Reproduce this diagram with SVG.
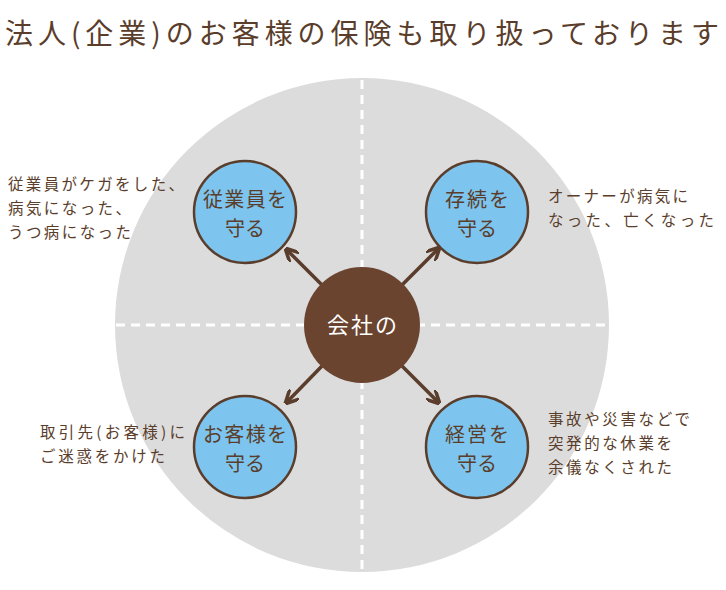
<svg xmlns="http://www.w3.org/2000/svg" width="726" height="590" viewBox="0 0 726 590">
<style>
text{font-family:"Noto Sans CJK JP","Noto Sans CJK SC",sans-serif;fill:#5a3d2b}
.t{font-size:28px}
.s{font-size:15.5px}
.n{font-size:20px;text-anchor:middle}
.sc{fill:#7dc5ee;stroke:#5a3d2b;stroke-width:2.5}
.d{stroke:#fff;stroke-width:3;stroke-dasharray:9 6}
.a{stroke:#5a3d2b;stroke-width:3.5;fill:none;marker-end:url(#h)}
</style>
<defs><marker id="h" viewBox="0 0 10 10" refX="8" refY="5" markerWidth="4" markerHeight="4" orient="auto"><path d="M0,0L10,5L0,10" fill="none" stroke="#5a3d2b" stroke-width="2.5"/></marker></defs>
<rect width="726" height="590" fill="#fff"/>
<text class="t" x="5" y="44" textLength="714" lengthAdjust="spacing">法人(企業)のお客様の保険も取り扱っております</text>
<circle cx="362" cy="325" r="247" fill="#dcdcdc"/>
<line class="d" x1="362" y1="80" x2="362" y2="572"/>
<line class="d" x1="116" y1="325" x2="608" y2="325"/>
<g id="connectors">
<line class="a" x1="322" y1="285" x2="287" y2="250"/>
<line class="a" x1="402" y1="285" x2="438" y2="249"/>
<line class="a" x1="322" y1="366" x2="287" y2="402"/>
<line class="a" x1="402" y1="366" x2="438" y2="402"/>
</g>
<g id="center"><circle cx="362" cy="325" r="58" fill="#6b4430"/><text class="n" x="362" y="333" style="fill:#fff;font-size:22px" textLength="70">会社の</text></g>
<g id="n1"><circle class="sc" cx="245" cy="212" r="51"/><text class="n" x="245" y="207" textLength="84">従業員を</text><text class="n" x="245" y="236">守る</text></g>
<g id="n2"><circle class="sc" cx="477" cy="212" r="51"/><text class="n" x="477" y="207" textLength="64">存続を</text><text class="n" x="477" y="236">守る</text></g>
<g id="n3"><circle class="sc" cx="245" cy="447" r="51"/><text class="n" x="245" y="442" textLength="84">お客様を</text><text class="n" x="245" y="471">守る</text></g>
<g id="n4"><circle class="sc" cx="477" cy="447" r="51"/><text class="n" x="477" y="442" textLength="64">経営を</text><text class="n" x="477" y="471">守る</text></g>
<g id="labels">
<text class="s" x="8" y="190" textLength="176">従業員がケガをした、</text>
<text class="s" x="8" y="214" textLength="123">病気になった、</text>
<text class="s" x="8" y="238" textLength="123">うつ病になった</text>
<text class="s" x="548" y="202" textLength="140">オーナーが病気に</text>
<text class="s" x="548" y="226" textLength="166">なった、亡くなった</text>
<text class="s" x="40" y="438" textLength="145">取引先(お客様)に</text>
<text class="s" x="40" y="462" textLength="125">ご迷惑をかけた</text>
<text class="s" x="548" y="425" textLength="142">事故や災害などで</text>
<text class="s" x="548" y="449" textLength="124">突発的な休業を</text>
<text class="s" x="548" y="473" textLength="124">余儀なくされた</text>
</g>
</svg>
